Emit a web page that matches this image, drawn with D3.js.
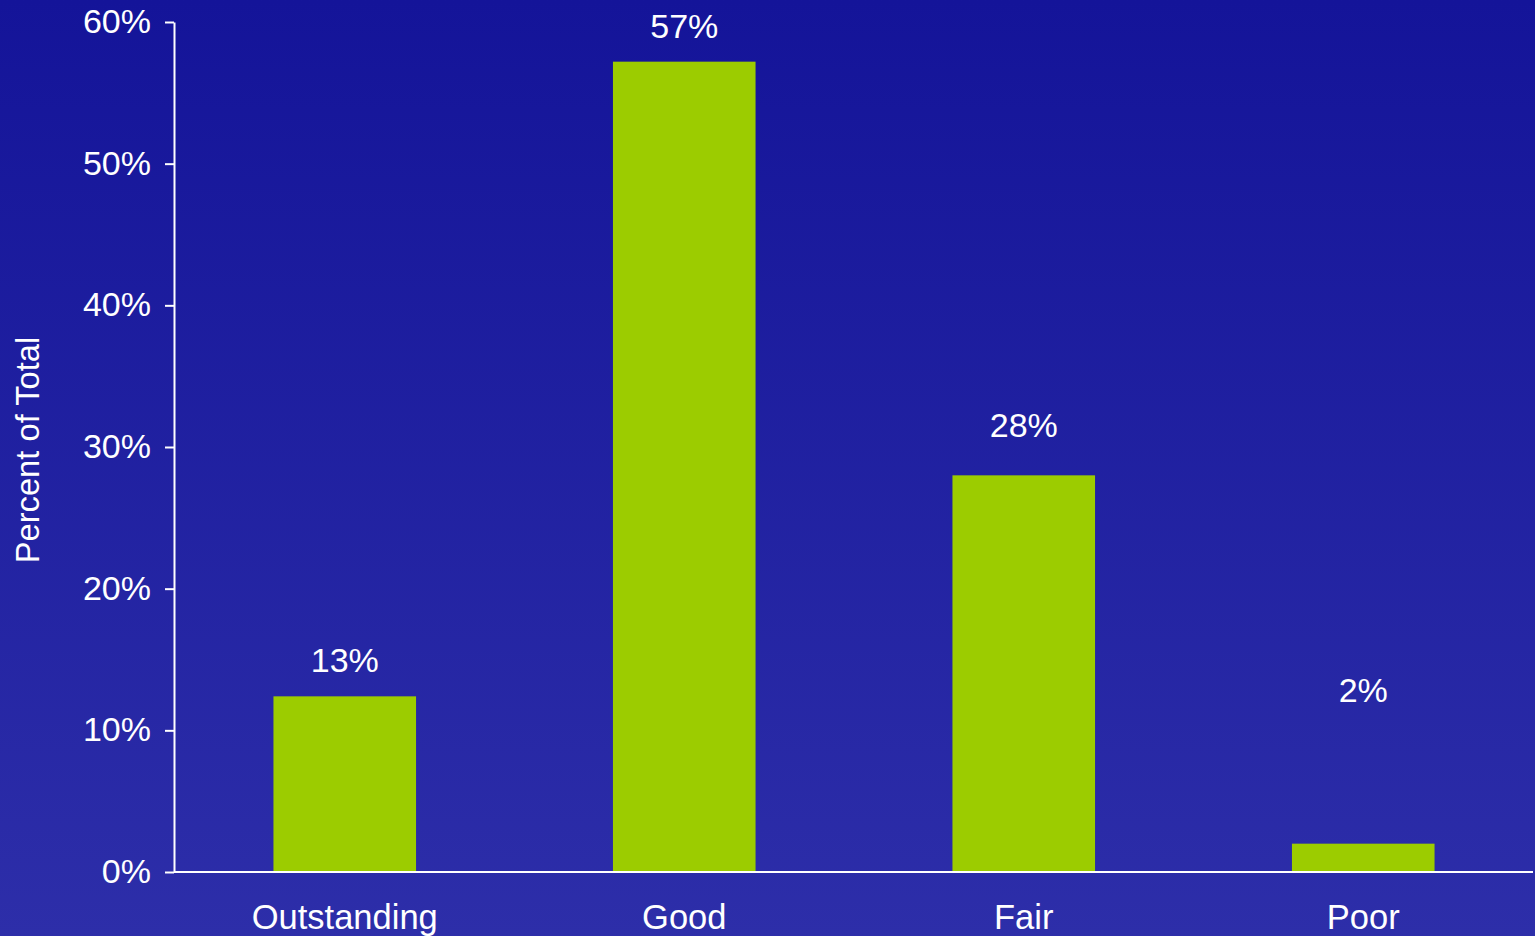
<!DOCTYPE html>
<html>
<head>
<meta charset="utf-8">
<script src="https://cdn.jsdelivr.net/npm/d3@7"></script>
<style>
html,body{margin:0;padding:0;overflow:hidden;background:#1f1fa0;}
svg{display:block;}
text{font-family:"Liberation Sans",Arial,sans-serif;fill:#ffffff;}
</style>
</head>
<body>
<svg id="chart" width="1535" height="936"></svg>
<script>
const categories = ["Outstanding", "Good", "Fair", "Poor"];
const values = [12.4, 57.2, 28.0, 2.0];
const valueLabels = ["13%", "57%", "28%", "2%"];
const labelAnchors = [14.1, 58.9, 30.7, 12.0];
const yTicks = [0, 10, 20, 30, 40, 50, 60];
const yTitle = "Percent of Total";

const W = 1535, H = 936;
const svg = d3.select("#chart");

const defs = svg.append("defs");
const grad = defs.append("linearGradient").attr("id", "bg").attr("x1", 0).attr("y1", 0).attr("x2", 0).attr("y2", 1);
grad.append("stop").attr("offset", "0%").attr("stop-color", "#141499");
grad.append("stop").attr("offset", "100%").attr("stop-color", "#2d2ea9");
svg.append("rect").attr("width", W).attr("height", H).attr("fill", "url(#bg)");

const x0 = 174, x1 = 1533, yTop = 22, yBot = 872;
const x = d3.scaleBand().domain(categories).range([x0 + 1, x1]).paddingInner(0.58).paddingOuter(0.29);
const y = d3.scaleLinear().domain([0, 60]).range([yBot, yTop]);

// bars
svg.append("g").selectAll("rect").data(categories).join("rect")
  .attr("x", d => x(d))
  .attr("width", x.bandwidth())
  .attr("y", (d, i) => y(values[i]))
  .attr("height", (d, i) => y(0) - y(values[i]))
  .attr("fill", "#9ccc00");

// y axis
const yAxis = d3.axisLeft(y).tickValues(yTicks).tickFormat(d => d + "%").tickSize(9).tickSizeOuter(0).tickPadding(14);
const gy = svg.append("g").attr("transform", `translate(${x0},0)`).call(yAxis);
gy.select(".domain").attr("stroke", "#fff").attr("stroke-width", 2);
gy.selectAll(".tick line").attr("stroke", "#fff").attr("stroke-width", 2);
gy.selectAll(".tick text").attr("font-size", 34).attr("font-family", "Liberation Sans, Arial, sans-serif").attr("fill", "#fff").attr("dy", "0.31em");

// x axis
const xAxis = d3.axisBottom(x).tickSize(0).tickSizeOuter(0).tickPadding(0);
const gx = svg.append("g").attr("transform", `translate(0,${yBot})`).call(xAxis);
gx.select(".domain").attr("stroke", "#fff").attr("stroke-width", 2).attr("d", `M${x0},0H${x1}`);
gx.selectAll(".tick text").attr("font-size", 34.5).attr("font-family", "Liberation Sans, Arial, sans-serif").attr("fill", "#fff").attr("dy", null).attr("y", 57);

// value labels
svg.append("g").selectAll("text").data(categories).join("text")
  .attr("x", d => x(d) + x.bandwidth() / 2)
  .attr("y", (d, i) => y(labelAnchors[i]))
  .attr("text-anchor", "middle")
  .attr("font-size", 34)
  .text((d, i) => valueLabels[i]);

// y title
svg.append("text")
  .attr("transform", `translate(39,${(yTop + yBot) / 2 + 3}) rotate(-90)`)
  .attr("text-anchor", "middle")
  .attr("font-size", 32.7)
  .text(yTitle);
</script>
</body>
</html>
